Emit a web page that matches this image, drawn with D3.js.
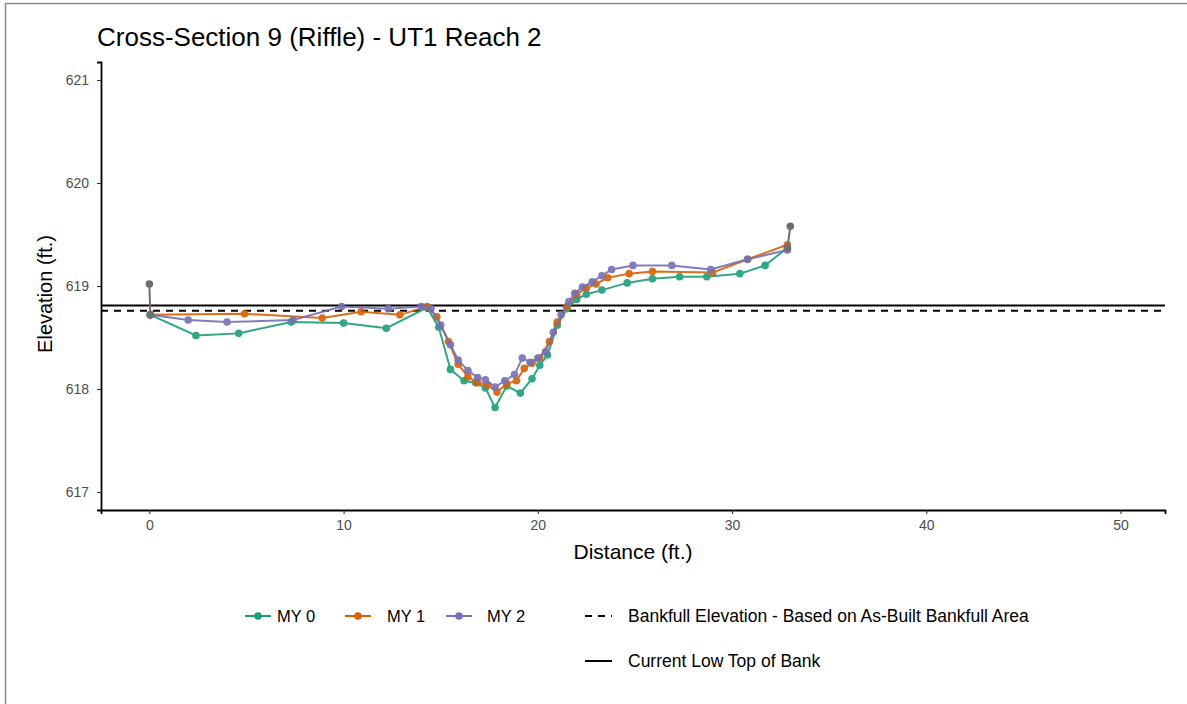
<!DOCTYPE html>
<html>
<head>
<meta charset="utf-8">
<script src="https://cdn.jsdelivr.net/npm/d3@7"></script>
<style>
  html, body { margin: 0; padding: 0; background: #fff; }
  svg { display: block; font-family: "Liberation Sans", Arial, sans-serif; }
</style>
</head>
<body>
<svg id="chart" width="1187" height="704"></svg>
<script>
// ---- data ----
const seriesNames = ["MY 0", "MY 1", "MY 2"];
const seriesColors = ["#1B9E77", "#D95F02", "#7570B3"];

const my0Dist = [0.05, 2.4, 4.6, 7.3, 10.0, 12.2, 14.3, 14.9, 15.5, 16.2, 16.8, 17.3, 17.8, 18.4, 19.1, 19.7, 20.1, 20.5, 21.0, 21.5, 22.0, 22.5, 23.3, 24.6, 25.9, 27.3, 28.7, 30.4, 31.7, 32.85];
const my0Elev = [618.72, 618.52, 618.54, 618.65, 618.64, 618.59, 618.79, 618.60, 618.19, 618.08, 618.06, 618.01, 617.82, 618.03, 617.96, 618.10, 618.23, 618.33, 618.62, 618.78, 618.87, 618.92, 618.96, 619.03, 619.07, 619.09, 619.09, 619.12, 619.20, 619.37];

const my1Dist = [0.05, 4.9, 8.9, 10.9, 12.9, 14.3, 14.8, 15.4, 15.9, 16.4, 16.9, 17.4, 17.9, 18.4, 18.9, 19.3, 19.7, 20.1, 20.6, 21.0, 21.5, 22.0, 22.5, 23.0, 23.6, 24.7, 25.9, 29.0, 30.8, 32.85];
const my1Elev = [618.72, 618.73, 618.69, 618.75, 618.72, 618.80, 618.70, 618.46, 618.24, 618.12, 618.06, 618.04, 617.97, 618.05, 618.08, 618.20, 618.25, 618.30, 618.46, 618.65, 618.80, 618.92, 618.98, 619.02, 619.08, 619.12, 619.14, 619.13, 619.26, 619.40];

const my2Dist = [0.05, 2.0, 4.0, 7.4, 9.9, 12.3, 14.0, 14.5, 15.0, 15.5, 15.9, 16.4, 16.9, 17.3, 17.8, 18.3, 18.8, 19.2, 19.6, 20.0, 20.4, 20.8, 21.2, 21.6, 21.9, 22.3, 22.8, 23.3, 23.8, 24.9, 26.9, 28.9, 30.8, 32.85];
const my2Elev = [618.72, 618.67, 618.65, 618.67, 618.80, 618.78, 618.80, 618.78, 618.62, 618.43, 618.28, 618.18, 618.11, 618.09, 618.02, 618.08, 618.14, 618.30, 618.26, 618.30, 618.36, 618.55, 618.72, 618.85, 618.93, 618.99, 619.04, 619.10, 619.16, 619.20, 619.20, 619.16, 619.26, 619.35];

// end pins (drawn in grey, not in legend)
const pinLeftDist = [0.0, 0.05];
const pinLeftElev = [619.02, 618.72];
const pinRightDist = [32.85, 33.0];
const pinRightElev = [619.37, 619.58];

const bankfullElev = 618.76;
const lowTopOfBankElev = 618.81;

const xTicks = [0, 10, 20, 30, 40, 50];
const yTicks = [617, 618, 619, 620, 621];

const titleText = "Cross-Section 9 (Riffle) - UT1 Reach 2";
const xTitle = "Distance (ft.)";
const yTitle = "Elevation (ft.)";
const bankfullLabel = "Bankfull Elevation - Based on As-Built Bankfull Area";
const lowTopLabel = "Current Low Top of Bank";

// ---- drawing ----
const svg = d3.select("#chart");
const FONT = "'Liberation Sans', Arial, sans-serif";

// outer frame (left + top)
svg.append("line").attr("x1", 5.5).attr("x2", 5.5).attr("y1", 3).attr("y2", 704)
  .attr("stroke", "#8a8a8a").attr("stroke-width", 1.5);
svg.append("line").attr("x1", 5).attr("x2", 1187).attr("y1", 3.5).attr("y2", 3.5)
  .attr("stroke", "#8a8a8a").attr("stroke-width", 1.5);

const plotL = 101, plotR = 1165, plotT = 62, plotB = 510;
const x = d3.scaleLinear().domain([-2.49, 52.29]).range([plotL, plotR]);
const y = d3.scaleLinear().domain([616.825, 621.175]).range([plotB, plotT]);

// axes
const xAxis = d3.axisBottom(x).tickValues(xTicks).tickSize(4).tickPadding(6).tickFormat(d3.format("d"));
const yAxis = d3.axisLeft(y).tickValues(yTicks).tickSize(4).tickPadding(8).tickFormat(d3.format("d"));

const gx = svg.append("g").attr("transform", `translate(0,${plotB})`).call(xAxis);
const gy = svg.append("g").attr("transform", `translate(${plotL},0)`).call(yAxis);
[gx, gy].forEach(g => {
  g.select(".domain").attr("stroke", "#000").attr("stroke-width", 1.8);
  g.selectAll(".tick line").attr("stroke", "#333").attr("stroke-width", 1.1);
  g.selectAll(".tick text").attr("fill", "#4d4d4d").style("font-size", "14px")
    .style("font-family", FONT);
});

// reference lines
svg.append("line").attr("x1", plotL).attr("x2", plotR)
  .attr("y1", y(lowTopOfBankElev)).attr("y2", y(lowTopOfBankElev))
  .attr("stroke", "#000").attr("stroke-width", 2);
svg.append("line").attr("x1", plotL).attr("x2", plotR)
  .attr("y1", y(bankfullElev)).attr("y2", y(bankfullElev))
  .attr("stroke", "#000").attr("stroke-width", 2).attr("stroke-dasharray", "7,6");

// series
const line = d3.line().x(d => x(d[0])).y(d => y(d[1]));
const seriesData = [
  d3.zip(my0Dist, my0Elev),
  d3.zip(my1Dist, my1Elev),
  d3.zip(my2Dist, my2Elev)
];

function drawSeries(data, color, opacity) {
  const g = svg.append("g").attr("opacity", opacity);
  g.append("path").datum(data).attr("d", line).attr("fill", "none")
    .attr("stroke", color).attr("stroke-width", 2);
  g.selectAll("circle").data(data).join("circle")
    .attr("cx", d => x(d[0])).attr("cy", d => y(d[1])).attr("r", 3.8)
    .attr("fill", color);
}
seriesData.forEach((data, i) => drawSeries(data, seriesColors[i], 0.9));

drawSeries(d3.zip(pinLeftDist, pinLeftElev), "#6e6e6e", 1);
drawSeries(d3.zip(pinRightDist, pinRightElev), "#6e6e6e", 1);

// titles
svg.append("text").attr("x", 97).attr("y", 46).text(titleText)
  .style("font-size", "26px").attr("fill", "#000");
svg.append("text").attr("x", 633).attr("y", 559).attr("text-anchor", "middle")
  .text(xTitle).style("font-size", "21px").attr("fill", "#000");
svg.append("text").attr("transform", `translate(52,${(plotT + plotB) / 2 + 8}) rotate(-90)`)
  .attr("text-anchor", "middle").text(yTitle).style("font-size", "20px").attr("fill", "#000");

// legend
const legY1 = 616, legY2 = 661;
const legItems = [
  { x: 245, tx: 277 },
  { x: 345, tx: 387 },
  { x: 446, tx: 487 }
];
legItems.forEach((it, i) => {
  const g = svg.append("g");
  g.append("line").attr("x1", it.x).attr("x2", it.x + 26).attr("y1", legY1).attr("y2", legY1)
    .attr("stroke", seriesColors[i]).attr("stroke-width", 2);
  g.append("circle").attr("cx", it.x + 13).attr("cy", legY1).attr("r", 3.8).attr("fill", seriesColors[i]);
  g.append("text").attr("x", it.tx).attr("y", legY1 + 6).text(seriesNames[i])
    .style("font-size", "16.5px").attr("fill", "#000");
});
svg.append("line").attr("x1", 585).attr("x2", 612).attr("y1", legY1).attr("y2", legY1)
  .attr("stroke", "#000").attr("stroke-width", 2).attr("stroke-dasharray", "7,6");
svg.append("text").attr("x", 628).attr("y", legY1 + 6).text(bankfullLabel)
  .style("font-size", "17.5px").attr("fill", "#000");
svg.append("line").attr("x1", 585).attr("x2", 612).attr("y1", legY2).attr("y2", legY2)
  .attr("stroke", "#000").attr("stroke-width", 2);
svg.append("text").attr("x", 628).attr("y", legY2 + 6).text(lowTopLabel)
  .style("font-size", "17.5px").attr("fill", "#000");
</script>
</body>
</html>
